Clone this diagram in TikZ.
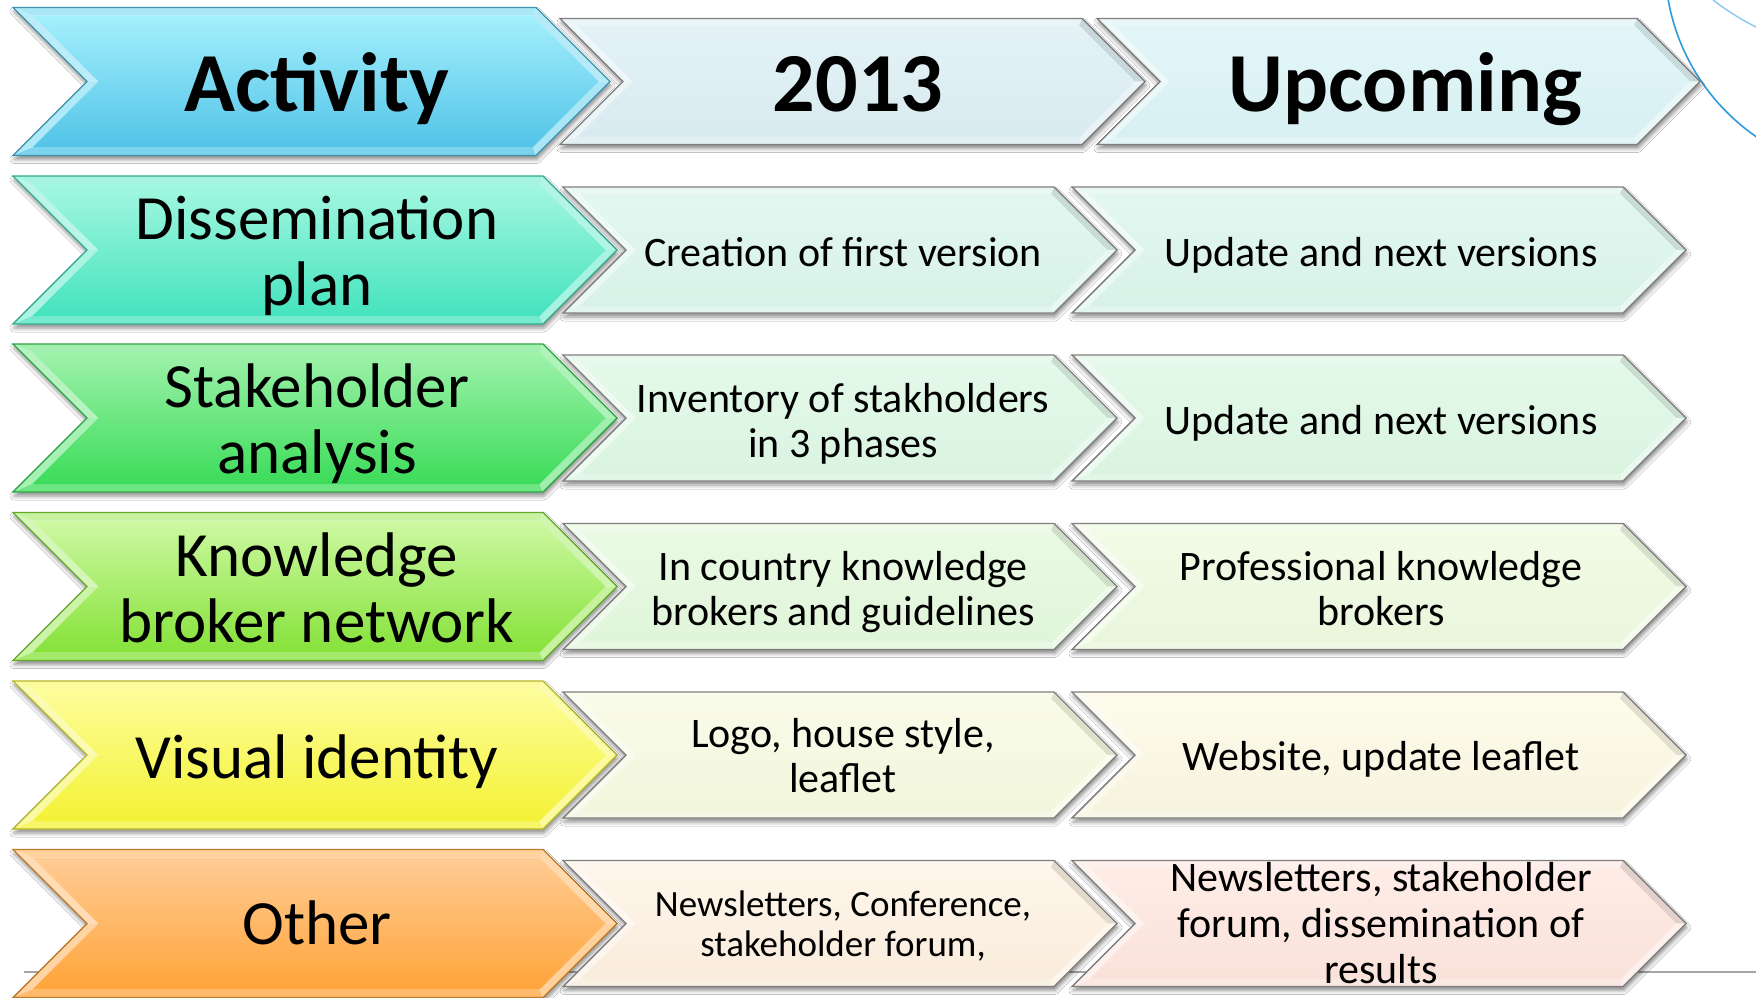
\documentclass[tikz,border=0pt]{standalone}
\usepackage{fontspec}
\setmainfont{Carlito}
\usetikzlibrary{shadows.blur}

% left column colours (top / bottom)
\definecolor{actT}{HTML}{A4EFFC}\definecolor{actB}{HTML}{52C4E8}
\definecolor{disT}{HTML}{A3F7E0}\definecolor{disB}{HTML}{45E3BE}
\definecolor{staT}{HTML}{9EF2AA}\definecolor{staB}{HTML}{3CDC5A}
\definecolor{knoT}{HTML}{CDF8A2}\definecolor{knoB}{HTML}{86E23A}
\definecolor{visT}{HTML}{FDFD9A}\definecolor{visB}{HTML}{F4F235}
\definecolor{othT}{HTML}{FFCC94}\definecolor{othB}{HTML}{FFA43A}
% pale boxes
\definecolor{hmT}{HTML}{E4F2F6}\definecolor{hmB}{HTML}{D8EBF0}
\definecolor{hrT}{HTML}{E2F6F8}\definecolor{hrB}{HTML}{D8F0F3}
\definecolor{amT}{HTML}{E2F7F0}\definecolor{amB}{HTML}{D8F2E8}
\definecolor{bmT}{HTML}{E4F9E9}\definecolor{bmB}{HTML}{DAF4E0}
\definecolor{cmT}{HTML}{EAFAE4}\definecolor{cmB}{HTML}{E0F5DA}
\definecolor{crT}{HTML}{F2FBE6}\definecolor{crB}{HTML}{E9F6DC}
\definecolor{dmT}{HTML}{F9FBE8}\definecolor{dmB}{HTML}{F2F6DC}
\definecolor{drT}{HTML}{FDFBEA}\definecolor{drB}{HTML}{F6F3DE}
\definecolor{emT}{HTML}{FEF5EA}\definecolor{emB}{HTML}{F9ECDC}
\definecolor{erT}{HTML}{FEECE6}\definecolor{erB}{HTML}{F9E2DA}
\definecolor{paleline}{HTML}{7F7F7F}
\definecolor{arcblue}{HTML}{2E9BDC}
\definecolor{arclight}{HTML}{8CC8EE}
\definecolor{bottomgray}{HTML}{A6A6A6}

% #1 left x, #2 tip x, #3 centre y, #4 half height, #5 top colour,
% #6 bottom colour, #7 outline colour, #8 bevel width, #9 upper-right facet colour
\newcommand{\chevbox}[9]{%
  \pgfmathsetmacro{\cvL}{#1}%
  \pgfmathsetmacro{\cvT}{#2}%
  \pgfmathsetmacro{\cvY}{#3}%
  \pgfmathsetmacro{\cvH}{#4}%
  \pgfmathsetmacro{\cvB}{#8}%
  \pgfmathsetmacro{\cvS}{1.4142*#8}%
  \pgfmathsetmacro{\cvTop}{\cvY-\cvH}%
  \pgfmathsetmacro{\cvBot}{\cvY+\cvH}%
  \pgfmathsetmacro{\cvTopI}{\cvTop+\cvB}%
  \pgfmathsetmacro{\cvBotI}{\cvBot-\cvB}%
  \pgfmathsetmacro{\cvR}{\cvT-\cvH}%
  \pgfmathsetmacro{\cvN}{\cvL+\cvH}%
  \pgfmathsetmacro{\cvLI}{\cvL+\cvB+\cvS}%
  \pgfmathsetmacro{\cvNI}{\cvN+\cvS}%
  \pgfmathsetmacro{\cvRI}{\cvR+\cvB-\cvS}%
  \pgfmathsetmacro{\cvTI}{\cvT-\cvS}%
  \colorlet{cvmid}{#5!50!#6}%
  \path[chevshadow] (\cvL,\cvTop) -- (\cvR,\cvTop) -- (\cvT,\cvY) -- (\cvR,\cvBot) -- (\cvL,\cvBot) -- (\cvN,\cvY) -- cycle;
  \fill[cvmid!65!white] (\cvL,\cvTop) -- (\cvR,\cvTop) -- (\cvRI,\cvTopI) -- (\cvLI,\cvTopI) -- cycle;
  \fill[cvmid!50!white] (\cvL,\cvTop) -- (\cvLI,\cvTopI) -- (\cvNI,\cvY) -- (\cvN,\cvY) -- cycle;
  \fill[cvmid!60!white] (\cvN,\cvY) -- (\cvNI,\cvY) -- (\cvLI,\cvBotI) -- (\cvL,\cvBot) -- cycle;
  \fill[#6!75!white] (\cvL,\cvBot) -- (\cvLI,\cvBotI) -- (\cvRI,\cvBotI) -- (\cvR,\cvBot) -- cycle;
  \fill[#9] (\cvR,\cvTop) -- (\cvT,\cvY) -- (\cvTI,\cvY) -- (\cvRI,\cvTopI) -- cycle;
  \fill[cvmid!65!white] (\cvT,\cvY) -- (\cvR,\cvBot) -- (\cvRI,\cvBotI) -- (\cvTI,\cvY) -- cycle;
  \shade[top color=#5, bottom color=#6] (\cvLI,\cvTopI) -- (\cvRI,\cvTopI) -- (\cvTI,\cvY) -- (\cvRI,\cvBotI) -- (\cvLI,\cvBotI) -- (\cvNI,\cvY) -- cycle;
  \draw[#7, line width=1.4pt, line join=miter] (\cvL,\cvTop) -- (\cvR,\cvTop) -- (\cvT,\cvY) -- (\cvR,\cvBot) -- (\cvL,\cvBot) -- (\cvN,\cvY) -- cycle;
}

\begin{document}
\begin{tikzpicture}[x=1pt,y=-1pt,
  chevshadow/.style={fill=white, blur shadow={shadow xshift=1pt, shadow yshift=-4pt, shadow blur radius=4pt, shadow opacity=45}},
  txt/.style={anchor=south, inner sep=0pt, text depth=0pt, align=center, text=black},
  hdr/.style={txt, font=\bfseries\fontsize{84}{90}\selectfont},
  lab/.style={txt, font=\fontsize{63}{66}\selectfont},
  cell/.style={txt, font=\fontsize{42}{45}\selectfont},
  small/.style={txt, font=\fontsize{37}{40}\selectfont},
  cellwide/.style={txt, font=\fontsize{42}{46}\selectfont}]
\useasboundingbox (0,0) rectangle (1756,998);
\fill[white] (0,0) rectangle (1756,998);

% decorations behind
\begin{scope}
  \clip (0,0) rectangle (1756,998);
  \draw[arcblue, line width=1.6pt] (1876,-37) circle[radius=211pt];
  \draw[arclight, line width=1.4pt] (1713,0) .. controls (1726,10) and (1740,19) .. (1756,27);
\end{scope}
\draw[bottomgray, line width=2pt] (24,972) -- (1756,972);

% header row
\chevbox{13}{610}{81.5}{74}{actT}{actB}{actB!75!black}{8}{cvmid!55!white}
\chevbox{560}{1145}{81.5}{63}{hmT}{hmB}{paleline}{7}{cvmid!90!black}
\chevbox{1097}{1700}{81.5}{63}{hrT}{hrB}{paleline}{7}{cvmid!90!black}
\node[hdr] (hAct) at (317,112) {Activity};
\node[hdr] (hYear) at (858,112) {2013};
\node[hdr] (hUp) at (1405,112) {Upcoming};

% row 1
\chevbox{13}{617}{250}{74}{disT}{disB}{disB!75!black}{8}{cvmid!55!white}
\chevbox{563}{1117}{250}{63}{amT}{amB}{paleline}{7}{cvmid!90!black}
\chevbox{1072}{1686}{250}{63}{amT}{amB}{paleline}{7}{cvmid!90!black}
\node[lab] (aL) at (317,306) {Dissemination\\plan};
\node[cell] (aM) at (843,266.5) {Creation of first version};
\node[cell] (aR) at (1381,266.5) {Update and next versions};

% row 2
\chevbox{13}{617}{418}{74}{staT}{staB}{staB!75!black}{8}{cvmid!55!white}
\chevbox{563}{1117}{418}{63}{bmT}{bmB}{paleline}{7}{cvmid!90!black}
\chevbox{1072}{1686}{418}{63}{bmT}{bmB}{paleline}{7}{cvmid!90!black}
\node[lab] (bL) at (317,474) {Stakeholder\\analysis};
\node[cell] (bM) at (843,458) {Inventory of stakholders\\in 3 phases};
\node[cell] (bR) at (1381,434.5) {Update and next versions};

% row 3
\chevbox{13}{617}{586.5}{74}{knoT}{knoB}{knoB!75!black}{8}{cvmid!55!white}
\chevbox{563}{1117}{586.5}{63}{cmT}{cmB}{paleline}{7}{cvmid!90!black}
\chevbox{1072}{1686}{586.5}{63}{crT}{crB}{paleline}{7}{cvmid!90!black}
\node[lab] (cL) at (317,643) {Knowledge\\broker network};
\node[cell] (cM) at (843,625.5) {In country knowledge\\brokers and guidelines};
\node[cell] (cR) at (1381,625.5) {Professional knowledge\\brokers};

% row 4
\chevbox{13}{617}{755}{74}{visT}{visB}{visB!75!black}{8}{cvmid!55!white}
\chevbox{563}{1117}{755}{63}{dmT}{dmB}{paleline}{7}{cvmid!90!black}
\chevbox{1072}{1686}{755}{63}{drT}{drB}{paleline}{7}{cvmid!90!black}
\node[lab] (dL) at (317,779) {Visual identity};
\node[cell] (dM) at (843,793) {Logo, house style,\\leaflet};
\node[cell] (dR) at (1381,770.5) {Website, update leaflet};

% row 5
\chevbox{13}{617}{923.5}{74}{othT}{othB}{othB!75!black}{8}{cvmid!55!white}
\chevbox{563}{1117}{923.5}{63}{emT}{emB}{paleline}{7}{cvmid!90!black}
\chevbox{1072}{1686}{923.5}{63}{erT}{erB}{paleline}{7}{cvmid!90!black}
\node[lab] (eL) at (317,945) {Other};
\node[small] (eM) at (843,957) {Newsletters, Conference,\\stakeholder forum,};
\node[cellwide] (eR) at (1381,984) {Newsletters, stakeholder\\forum, dissemination of\\results};
\end{tikzpicture}
\end{document}
